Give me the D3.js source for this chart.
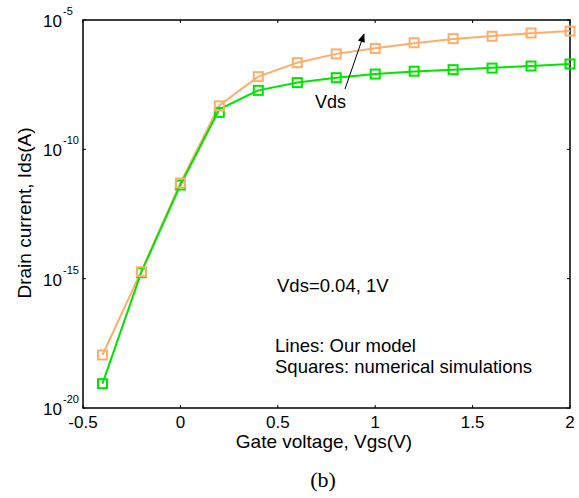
<!DOCTYPE html>
<html>
<head>
<meta charset="utf-8">
<script src="https://cdn.jsdelivr.net/npm/d3@7"></script>
<style>
  body { margin: 0; background: #fff; }
  svg { font-family: Arial, "Liberation Sans", sans-serif; }
</style>
</head>
<body>
<div id="chart"></div>
<script>
// Gate voltage points
var vgs = [-0.4, -0.2, 0, 0.2, 0.4, 0.6, 0.8, 1.0, 1.2, 1.4, 1.6, 1.8, 2.0];
// log10 of drain current
var simHigh = [-17.95, -14.73, -11.30, -8.32, -7.19, -6.65, -6.31, -6.10, -5.88, -5.72, -5.63, -5.50, -5.43];
var simLow  = [-19.06, -14.77, -11.38, -8.57, -7.72, -7.42, -7.23, -7.09, -6.98, -6.92, -6.86, -6.78, -6.70];
var modelHigh = [-17.95, -14.70, -11.30, -8.30, -7.19, -6.65, -6.31, -6.09, -5.90, -5.73, -5.62, -5.51, -5.43];
var modelLow  = [-19.06, -14.74, -11.38, -8.45, -7.72, -7.42, -7.23, -7.09, -6.99, -6.92, -6.85, -6.78, -6.70];
var xTicks = [-0.5, 0, 0.5, 1, 1.5, 2];
var yTickExp = [-20, -15, -10, -5];

var w = 579, h = 498;
const marginTop = 20, marginRight = 9, marginBottom = 90, marginLeft = 83;

var svg = d3.select("#chart").append("svg")
    .attr("width", w).attr("height", h);

var x = d3.scaleLinear().domain([-0.5, 2]).range([marginLeft, w - marginRight]);
var y = d3.scaleLog().domain([1e-20, 1e-5]).range([h - marginBottom, marginTop]);

var orange = "#ffad6b", green = "#00e400";

// box
svg.append("rect")
    .attr("x", x(-0.5)).attr("y", y(1e-5))
    .attr("width", x(2) - x(-0.5)).attr("height", y(1e-20) - y(1e-5))
    .attr("fill", "none").attr("stroke", "#000").attr("stroke-width", 1.5);

// ticks, inward on all sides
var tk = 3;
var xt = svg.append("g").attr("stroke", "#000").attr("stroke-width", 1);
xTicks.forEach(function(v) {
  xt.append("line").attr("x1", x(v)).attr("x2", x(v)).attr("y1", y(1e-20)).attr("y2", y(1e-20) - tk);
  xt.append("line").attr("x1", x(v)).attr("x2", x(v)).attr("y1", y(1e-5)).attr("y2", y(1e-5) + tk);
});
yTickExp.forEach(function(e) {
  var v = Math.pow(10, e);
  xt.append("line").attr("x1", x(-0.5)).attr("x2", x(-0.5) + tk).attr("y1", y(v)).attr("y2", y(v));
  xt.append("line").attr("x1", x(2)).attr("x2", x(2) - tk).attr("y1", y(v)).attr("y2", y(v));
});

// x tick labels
svg.append("g").selectAll("text").data(xTicks).join("text")
    .attr("x", d => x(d)).attr("y", y(1e-20) + 20)
    .attr("text-anchor", "middle").attr("font-size", 17)
    .text(d => d);

// y tick labels 10^e
var yl = svg.append("g").selectAll("g").data(yTickExp).join("g")
    .attr("transform", d => `translate(${x(-0.5) - 21},${y(Math.pow(10, d)) + 7})`);
yl.append("text").attr("text-anchor", "end").attr("font-size", 17).text("10");
yl.append("text").attr("x", 1).attr("y", -12).attr("text-anchor", "start").attr("font-size", 11)
    .text(d => d);

// axis labels
svg.append("text").attr("x", 324).attr("y", 448).attr("text-anchor", "middle")
    .attr("font-size", 19).text("Gate voltage, Vgs(V)");
svg.append("text").attr("transform", "translate(31,213) rotate(-90)").attr("text-anchor", "middle")
    .attr("font-size", 19).text("Drain current, Ids(A)");
svg.append("text").attr("x", 323).attr("y", 487).attr("text-anchor", "middle")
    .attr("font-family", "'Liberation Serif', 'Times New Roman', serif")
    .attr("font-size", 22).text("(b)");

// model lines
var line = d3.line().x(d => x(d[0])).y(d => y(Math.pow(10, d[1])));
[[modelHigh, orange], [modelLow, green]].forEach(function(s) {
  svg.append("path").datum(d3.zip(vgs, s[0]))
      .attr("d", line).attr("fill", "none")
      .attr("stroke", s[1]).attr("stroke-width", 2);
});

// simulation squares
var sq = 9;
[[simLow, green], [simHigh, orange]].forEach(function(s) {
  svg.append("g").selectAll("rect").data(d3.zip(vgs, s[0])).join("rect")
      .attr("x", d => x(d[0]) - sq / 2).attr("y", d => y(Math.pow(10, d[1])) - sq / 2)
      .attr("width", sq).attr("height", sq)
      .attr("fill", "none").attr("stroke", s[1]).attr("stroke-width", 2);
});

// arrow for Vds
svg.append("defs").append("marker")
    .attr("id", "ah").attr("viewBox", "0 0 10 10").attr("refX", 9).attr("refY", 5)
    .attr("markerWidth", 11).attr("markerHeight", 9).attr("orient", "auto")
    .attr("markerUnits", "userSpaceOnUse")
    .append("path").attr("d", "M0,1 L10,5 L0,9 Z").attr("fill", "#000");
svg.append("line").attr("x1", 345).attr("y1", 89).attr("x2", 364).attr("y2", 34)
    .attr("stroke", "#000").attr("stroke-width", 1).attr("marker-end", "url(#ah)");
svg.append("text").attr("x", 315).attr("y", 108).attr("font-size", 18).text("Vds");

// annotations
svg.append("text").attr("x", 277).attr("y", 292).attr("font-size", 18.5).text("Vds=0.04, 1V");
svg.append("text").attr("x", 275).attr("y", 352).attr("font-size", 18.5).text("Lines: Our model");
svg.append("text").attr("x", 275).attr("y", 373).attr("font-size", 18.5).text("Squares: numerical simulations");
</script>
</body>
</html>
